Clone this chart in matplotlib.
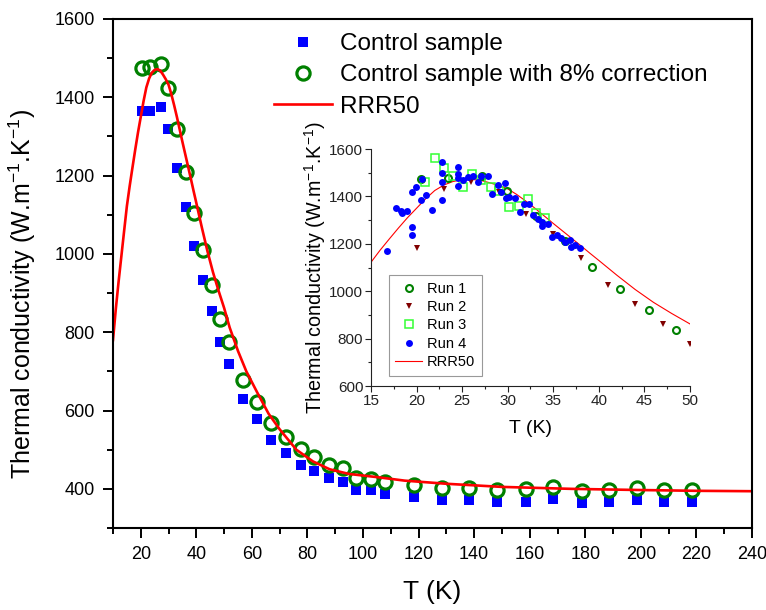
import matplotlib
matplotlib.use("Agg")
import matplotlib.pyplot as plt
from matplotlib.ticker import MultipleLocator

plt.rcParams['font.family'] = ['Liberation Sans', 'DejaVu Sans']
plt.rcParams['mathtext.fontset'] = 'custom'
plt.rcParams['mathtext.rm'] = 'Liberation Sans'
plt.rcParams['mathtext.default'] = 'regular'

# main plot: control sample
temp = [20.5, 23.5, 27.2, 29.9, 33.1, 36.3, 39.2, 42.3, 45.5, 48.5, 51.8,
        56.9, 61.7, 66.9, 72.3, 77.5, 82.5, 87.7, 92.7, 97.6, 102.8, 107.9,
        118.4, 128.3, 138.3, 148.3, 158.6, 168.5, 178.7, 188.7, 198.7, 208.4, 218.3]
k_control = [1366, 1366, 1374, 1318, 1220, 1121, 1020, 933, 854, 774, 719,
             629, 578, 526, 492, 462, 445, 428, 418, 396, 396, 388,
             378, 371, 371, 367, 367, 373, 365, 367, 371, 367, 367]
k_corrected = [1474, 1477, 1485, 1423, 1318, 1210, 1104, 1010, 921, 835, 776,
               678, 622, 567, 532, 501, 481, 462, 452, 428, 426, 418,
               410, 401, 401, 397, 399, 405, 395, 397, 401, 397, 397]

# RRR50 model curve
t_rrr = [10, 11, 12, 13, 14, 15, 16, 17, 18, 19, 20, 21, 22, 23, 24, 25, 26,
         27, 28, 29, 30, 31, 32, 33, 34, 35, 36, 37, 38, 39, 40, 42, 44, 46,
         48, 50, 52, 55, 58, 62, 66, 70, 76, 82, 88, 95, 105, 115, 130, 150,
         175, 200, 220, 240]
k_rrr = [780, 858, 928, 993, 1058, 1122, 1173, 1220, 1266, 1310, 1350, 1390,
         1425, 1448, 1463, 1470, 1472, 1468, 1458, 1446, 1432, 1408, 1380,
         1350, 1318, 1286, 1255, 1224, 1193, 1161, 1130, 1067, 1007, 953,
         906, 862, 812, 752, 700, 645, 592, 552, 500, 470, 450, 438, 430,
         421, 413, 405, 400, 397, 395, 394]

# inset runs
run1_t = temp[:10]
run1_k = k_corrected[:10]
run2_t = [20, 23, 26, 29, 32, 35, 38, 41, 44, 47, 50]
run2_k = [1183, 1430, 1462, 1418, 1325, 1241, 1142, 1025, 944, 861, 776]
run3_t = [20.9, 22, 23, 24, 25.1, 26.1, 27.1, 28.2, 29.1, 30.2, 31.2, 32.2, 33.1, 34.1]
run3_k = [1462, 1561, 1521, 1486, 1438, 1494, 1469, 1438, 1424, 1356, 1359, 1389, 1328, 1310]
run4_t = [16.8, 17.8, 18.3, 18.4, 18.9, 19.5, 19.9, 19.5, 19.5, 20.5, 20.6, 21.0,
          21.7, 22.8, 22.8, 22.8, 22.8, 24.6, 24.6, 24.6, 24.6, 25.1, 25.7,
          26.2, 26.7, 27.1, 27.8, 28.3, 28.9, 29.3, 29.7, 29.8, 30.2, 30.8,
          31.3, 31.8, 32.3, 32.8, 33.3, 33.8, 33.8, 34.4, 34.9, 35.4, 35.9,
          36.3, 36.8, 36.9, 37.4, 37.9]
run4_k = [1169, 1352, 1340, 1328, 1340, 1420, 1438, 1269, 1239, 1385, 1473, 1408,
          1342, 1546, 1497, 1459, 1385, 1525, 1494, 1476, 1444, 1469, 1480,
          1486, 1462, 1486, 1487, 1410, 1448, 1420, 1458, 1394, 1399, 1394,
          1335, 1366, 1366, 1321, 1304, 1293, 1276, 1283, 1230, 1239, 1223,
          1208, 1215, 1187, 1197, 1183]

ylabel = 'Thermal conductivity (W.m$^{-1}$.K$^{-1}$)'

fig = plt.figure(figsize=(7.66, 6.10), dpi=100)
ax = fig.add_axes([0.1475, 0.1344, 0.8342, 0.8345])

ax.plot(temp, k_control, 's', color='#0000ff', ms=6.5, mew=0, label='Control sample')
ax.plot(temp, k_corrected, 'o', mfc='none', mec='#008000', ms=9.5, mew=2.3,
        label='Control sample with 8% correction')
ax.plot(t_rrr, k_rrr, '-', color='#ff0000', lw=1.9, label='RRR50')

ax.set_xlim(10, 240)
ax.set_ylim(300, 1600)
ax.xaxis.set_major_locator(MultipleLocator(20))
ax.xaxis.set_minor_locator(MultipleLocator(10))
ax.yaxis.set_major_locator(MultipleLocator(200))
ax.yaxis.set_minor_locator(MultipleLocator(100))
ax.set_xticks(range(20, 241, 20))
ax.tick_params(which='major', direction='out', length=7, width=1.4, labelsize=13, pad=6)
ax.tick_params(which='minor', direction='out', length=4, width=1.4)
for s in ax.spines.values():
    s.set_linewidth(1.5)
ax.set_xlabel('T (K)', fontsize=19, labelpad=12)
ax.set_ylabel(ylabel, fontsize=18)
ax.yaxis.set_label_coords(-0.118, 0.46)

ax.legend(loc='upper left', bbox_to_anchor=(0.252, 0.972), frameon=False,
          fontsize=17.5, handlelength=2.4, handletextpad=0.3, labelspacing=0.38,
          borderaxespad=0, borderpad=0)

# inset
ins = fig.add_axes([0.4843, 0.3672, 0.4164, 0.3885])
ins.plot(t_rrr, k_rrr, '-', color='#ff0000', lw=0.8, label='RRR50', zorder=1)
ins.plot(run1_t, run1_k, 'o', mfc='none', mec='#008000', ms=5, mew=1.5, label='Run 1')
ins.plot(run2_t, run2_k, 'v', color='#800000', ms=5, mew=0, label='Run 2')
ins.plot(run3_t, run3_k, 's', mfc='none', mec='#33ff33', ms=6, mew=1.1, label='Run 3')
ins.plot(run4_t, run4_k, 'o', color='#0000ff', ms=5, mew=0, label='Run 4')
ins.set_xlim(15, 50)
ins.set_ylim(600, 1600)
ins.xaxis.set_major_locator(MultipleLocator(5))
ins.xaxis.set_minor_locator(MultipleLocator(2.5))
ins.yaxis.set_major_locator(MultipleLocator(200))
ins.yaxis.set_minor_locator(MultipleLocator(100))
ins.tick_params(which='major', direction='out', length=4, width=0.8, labelsize=11, pad=1.5,
                colors='#222222')
ins.tick_params(which='minor', direction='out', length=2.5, width=0.8, colors='#222222')
ins.spines['top'].set_visible(False)
ins.spines['right'].set_visible(False)
for s in ['left', 'bottom']:
    ins.spines[s].set_linewidth(0.8)
    ins.spines[s].set_color('#222222')
ins.set_xlabel('T (K)', fontsize=14, labelpad=9)
ins.set_ylabel(ylabel, fontsize=14.2, labelpad=1)

handles, labels = ins.get_legend_handles_labels()
order = [1, 2, 3, 4, 0]
leg = ins.legend([handles[i] for i in order], [labels[i] for i in order],
                 loc='upper left', bbox_to_anchor=(0.056, 0.468), fontsize=10.5,
                 fancybox=False, edgecolor='#999999', framealpha=1,
                 handlelength=1.8, handletextpad=0.35, labelspacing=0.3,
                 borderaxespad=0, borderpad=0.45)
leg.get_frame().set_linewidth(0.8)

fig.savefig('out.png', dpi=100)
